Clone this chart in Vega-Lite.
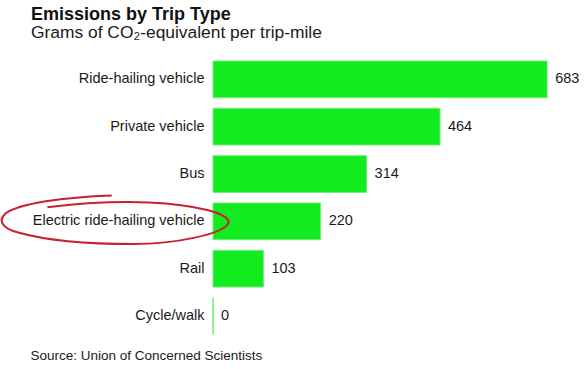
{
  "$schema": "https://vega.github.io/schema/vega-lite/v6.json",
  "autosize": {"type": "none"},
  "padding": {"left": 213, "top": 55.7, "right": 33, "bottom": 29.3},
  "width": 340,
  "height": 284,
  "background": "white",
  "config": {
    "view": {"stroke": null},
    "font": "Liberation Sans"
  },
  "title": {
    "text": "Emissions by Trip Type",
    "subtitle": "Grams of CO₂-equivalent per trip-mile",
    "anchor": "start",
    "frame": "group",
    "dx": -182,
    "offset": 14,
    "font": "Liberation Sans",
    "fontSize": 18,
    "fontWeight": "bold",
    "color": "#111111",
    "subtitleFont": "Liberation Sans",
    "subtitleFontSize": 17.4,
    "subtitleColor": "#1a1a1a",
    "subtitlePadding": 0
  },
  "data": {
    "values": [
      {"trip": "Ride-hailing vehicle", "grams": 683},
      {"trip": "Private vehicle", "grams": 464},
      {"trip": "Bus", "grams": 314},
      {"trip": "Electric ride-hailing vehicle", "grams": 220},
      {"trip": "Rail", "grams": 103},
      {"trip": "Cycle/walk", "grams": 0}
    ]
  },
  "encoding": {
    "y": {
      "field": "trip",
      "type": "nominal",
      "sort": null,
      "scale": {"paddingInner": 0.225, "paddingOuter": 0.1125},
      "axis": {
        "title": null,
        "domain": false,
        "ticks": false,
        "tickSize": 0,
        "grid": false,
        "labelPadding": 9,
        "labelFont": "Liberation Sans",
        "labelFontSize": 14.5,
        "labelColor": "#1a1a1a",
        "labelLimit": 300
      }
    }
  },
  "layer": [
    {
      "mark": {"type": "bar", "fill": "#12eb20", "stroke": "#6ff06f", "strokeWidth": 1},
      "encoding": {
        "x": {
          "field": "grams",
          "type": "quantitative",
          "scale": {"domain": [0, 695], "nice": false},
          "axis": {
            "labels": false,
            "ticks": false,
            "domain": false,
            "grid": false,
            "title": "Source: Union of Concerned Scientists",
            "titleX": -183,
            "titleY": 19.3,
            "titleAlign": "left",
            "titleBaseline": "alphabetic",
            "titleFont": "Liberation Sans",
            "titleFontSize": 13.5,
            "titleFontWeight": "normal",
            "titleColor": "#1a1a1a"
          }
        }
      }
    },
    {
      "mark": {"type": "text", "align": "left", "dx": 8, "font": "Liberation Sans", "fontSize": 14.5, "color": "#1a1a1a"},
      "encoding": {
        "x": {"field": "grams", "type": "quantitative"},
        "text": {"field": "grams", "type": "quantitative"}
      }
    },
    {
      "transform": [{"filter": "datum.trip === 'Electric ride-hailing vehicle'"}],
      "mark": {
        "type": "point",
        "filled": false,
        "stroke": "#c8202f",
        "strokeWidth": 2,
        "opacity": 1,
        "size": 51076,
        "shape": "M -0.03 -0.23 C -0.45 -0.215 -0.85 -0.16 -0.97 -0.07 C -1.05 0.0 -0.98 0.07 -0.85 0.1 C -0.6 0.17 -0.2 0.2 0.16 0.2 C 0.55 0.2 0.95 0.11 1.0 0.02 C 1.04 -0.07 0.7 -0.15 0.3 -0.168 C -0.05 -0.18 -0.4 -0.15 -0.6 -0.124"
      },
      "encoding": {
        "x": {"datum": -200, "type": "quantitative"}
      }
    }
  ]
}
